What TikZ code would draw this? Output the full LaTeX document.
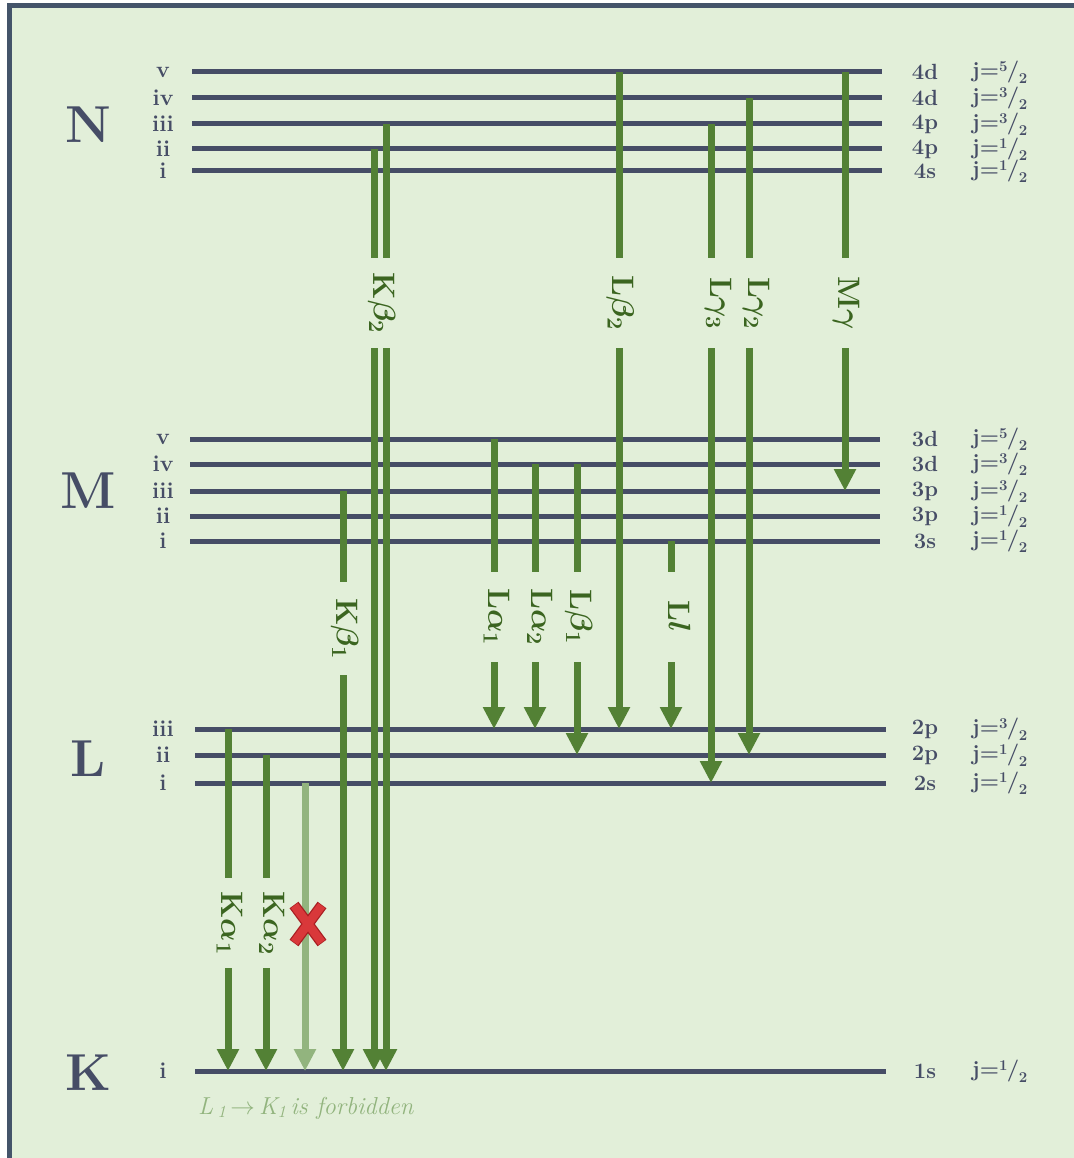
\RequirePackage{fix-cm}
\documentclass[tikz,border=0pt]{standalone}
\usetikzlibrary{arrows.meta}
\definecolor{bg}{HTML}{E2EFD9}
\definecolor{framec}{HTML}{44546A}
\definecolor{lvlc}{HTML}{464D66}
\definecolor{gr}{HTML}{538135}
\definecolor{grt}{HTML}{3B6520}
\definecolor{lgr}{HTML}{92B47E}
\definecolor{xfill}{HTML}{D9383A}
\definecolor{xline}{HTML}{A81E22}
\newcommand{\jval}[1]{j=\raisebox{0.55ex}{\fontsize{15}{15}\selectfont #1}\kern-0.5pt/\kern-0.5pt\raisebox{-0.65ex}{\fontsize{15}{15}\selectfont 2}}
\begin{document}
\begin{tikzpicture}[x=1pt,y=1pt,
  lvl/.style={line width=5pt, draw=lvlc},
  num/.style={font=\fontsize{23}{23}\selectfont\bfseries, text=lvlc, inner sep=0pt},
  shell/.style={font=\fontsize{52}{52}\selectfont\bfseries, text=lvlc, inner sep=0pt},
  orb/.style={font=\fontsize{22}{22}\selectfont\bfseries, text=lvlc, inner sep=0pt},
  jl/.style={font=\fontsize{22}{22}\selectfont\bfseries, text=lvlc, anchor=west, inner sep=0pt},
  tr/.style={line width=7pt, draw=gr},
  tra/.style={tr, -{Triangle[width=21pt,length=22pt]}},
  tlab/.style={rotate=-90, anchor=mid, font=\fontsize{31}{31}\selectfont\bfseries\boldmath, text=grt, minimum width=90pt, inner sep=0pt},
  forb/.style={font=\fontsize{24.5}{24.5}\selectfont\itshape, text=lgr, inner sep=0pt},
  xo/.style={line width=11pt, draw=xline},
  xi/.style={line width=8.5pt, draw=xfill}
]
\useasboundingbox (0,0) rectangle (1073,-1158);
\fill[white] (0,0) rectangle (1073,-1158);
\draw[line width=5pt, draw=framec, fill=bg] (9.5,-6) rectangle (1110,-1190);

% columns
\coordinate (numcol) at (163,0);
\coordinate (orbcol) at (925,0);
\coordinate (jcol) at (972,0);
\coordinate (shcol) at (88,0);

% levels
\foreach \n/\y in {5/72,4/98,3/124,2/149,1/171} {
  \coordinate (N\n) at (192,-\y); \coordinate (N\n r) at (882,-\y);
  \draw[lvl] (N\n) -- (N\n r);}
\foreach \n/\y in {5/439,4/464,3/491,2/516,1/541} {
  \coordinate (M\n) at (190,-\y); \coordinate (M\n r) at (880,-\y);
  \draw[lvl] (M\n) -- (M\n r);}
\foreach \n/\y in {3/729,2/755,1/783} {
  \coordinate (L\n) at (195,-\y); \coordinate (L\n r) at (886,-\y);
  \draw[lvl] (L\n) -- (L\n r);}
\coordinate (K1) at (195,-1071); \coordinate (K1r) at (886,-1071);
\draw[lvl] (K1) -- (K1r);

% shell letters
\node[shell] (sN) at (88,-125) {N};
\node[shell] (sM) at (88,-491) {M};
\node[shell] (sL) at (88,-759) {L};
\node[shell] (sK) at (88,-1073) {K};

% roman numerals
\foreach \n/\t in {5/v,4/iv,3/iii,2/ii,1/i} {
  \node[num] (nN\n) at (N\n -| numcol) {\t};
  \node[num] (nM\n) at (M\n -| numcol) {\t};}
\foreach \n/\t in {3/iii,2/ii,1/i} {\node[num] (nL\n) at (L\n -| numcol) {\t};}
\node[num] (nK1) at (K1 -| numcol) {i};

% orbital and j labels
\foreach \n/\o/\j in {5/4d/5,4/4d/3,3/4p/3,2/4p/1,1/4s/1} {
  \node[orb] (oN\n) at (N\n -| orbcol) {\o};
  \node[jl] (jN\n) at (N\n -| jcol) {\jval{\j}};}
\foreach \n/\o/\j in {5/3d/5,4/3d/3,3/3p/3,2/3p/1,1/3s/1} {
  \node[orb] (oM\n) at (M\n -| orbcol) {\o};
  \node[jl] (jM\n) at (M\n -| jcol) {\jval{\j}};}
\foreach \n/\o/\j in {3/2p/3,2/2p/1,1/2s/1} {
  \node[orb] (oL\n) at (L\n -| orbcol) {\o};
  \node[jl] (jL\n) at (L\n -| jcol) {\jval{\j}};}
\node[orb] (oK1) at (K1 -| orbcol) {1s};
\node[jl] (jK1) at (K1 -| jcol) {\jval{1}};

% transition columns
\coordinate (cKbA) at (374,0);
\coordinate (cKbB) at (386,0);
\coordinate (cLb2) at (619,0);
\coordinate (cLg3) at (711,0);
\coordinate (cLg2) at (749,0);
\coordinate (cMg) at (845,0);
\coordinate (cKb1) at (343,0);
\coordinate (cLa1) at (494,0);
\coordinate (cLa2) at (535,0);
\coordinate (cLb1) at (577,0);
\coordinate (cLl) at (671,0);
\coordinate (cKa1) at (228,0);
\coordinate (cKa2) at (266,0);
\coordinate (cKf) at (305,0);

% transition labels
\node[tlab] (tKb2) at (376,-303) {K$\beta_2$};
\node[tlab] (tLb2) at (614.5,-303) {L$\beta_2$};
\node[tlab] (tLg3) at (713,-303) {L$\gamma_3$};
\node[tlab] (tLg2) at (751,-303) {L$\gamma_2$};
\node[tlab] (tMg) at (841,-303) {M$\gamma$};
\node[tlab, minimum width=93pt] (tKb1) at (339,-628.5) {K$\beta_1$};
\node[tlab] (tLa1) at (490.5,-617) {L$\alpha_1$};
\node[tlab] (tLa2) at (534,-617) {L$\alpha_2$};
\node[tlab] (tLb1) at (573,-617) {L$\beta_1$};
\node[tlab] (tLl) at (671,-617) {L$l$};
\node[tlab] (tKa1) at (223.5,-923) {K$\alpha_1$};
\node[tlab] (tKa2) at (266,-923) {K$\alpha_2$};

% transitions
\draw[tr] (cKbA |- N2) -- (cKbA |- tKb2.west);
\draw[tra] (cKbA |- tKb2.east) -- (cKbA |- K1);
\draw[tr] (cKbB |- N3) -- (cKbB |- tKb2.west);
\draw[tra] (cKbB |- tKb2.east) -- (cKbB |- K1);

\draw[tr] (cLb2 |- N5) -- (cLb2 |- tLb2.west);
\draw[tra] (cLb2 |- tLb2.east) -- (cLb2 |- L3);
\draw[tr] (cLg3 |- N3) -- (cLg3 |- tLg3.west);
\draw[tra] (cLg3 |- tLg3.east) -- (cLg3 |- L1);
\draw[tr] (cLg2 |- N4) -- (cLg2 |- tLg2.west);
\draw[tra] (cLg2 |- tLg2.east) -- (cLg2 |- L2);
\draw[tr] (cMg |- N5) -- (cMg |- tMg.west);
\draw[tra] (cMg |- tMg.east) -- (cMg |- M3);

\draw[tr] (cKb1 |- M3) -- (cKb1 |- tKb1.west);
\draw[tra] (cKb1 |- tKb1.east) -- (cKb1 |- K1);
\draw[tr] (cLa1 |- M5) -- (cLa1 |- tLa1.west);
\draw[tra] (cLa1 |- tLa1.east) -- (cLa1 |- L3);
\draw[tr] (cLa2 |- M4) -- (cLa2 |- tLa2.west);
\draw[tra] (cLa2 |- tLa2.east) -- (cLa2 |- L3);
\draw[tr] (cLb1 |- M4) -- (cLb1 |- tLb1.west);
\draw[tra] (cLb1 |- tLb1.east) -- (cLb1 |- L2);
\draw[tr] (cLl |- M1) -- (cLl |- tLl.west);
\draw[tra] (cLl |- tLl.east) -- (cLl |- L3);

\draw[tr] (cKa1 |- L3) -- (cKa1 |- tKa1.west);
\draw[tra] (cKa1 |- tKa1.east) -- (cKa1 |- K1);
\draw[tr] (cKa2 |- L2) -- (cKa2 |- tKa2.west);
\draw[tra] (cKa2 |- tKa2.east) -- (cKa2 |- K1);

\draw[tra, draw=lgr] (cKf |- L1) -- (cKf |- K1);

% red cross
\coordinate (X) at (308,-924);
\draw[xo] ([shift={(-14,19)}]X) -- ([shift={(14,-19)}]X);
\draw[xo] ([shift={(14,19)}]X) -- ([shift={(-14,-19)}]X);
\draw[xi] ([shift={(-13.6,18.4)}]X) -- ([shift={(13.6,-18.4)}]X);
\draw[xi] ([shift={(13.6,18.4)}]X) -- ([shift={(-13.6,-18.4)}]X);

% note
\node[forb, anchor=west] (fb) at (198,-1108) {L\,\textsubscript{1}\,$\rightarrow$\,K\textsubscript{1}\,is forbidden};
\end{tikzpicture}
\end{document}
